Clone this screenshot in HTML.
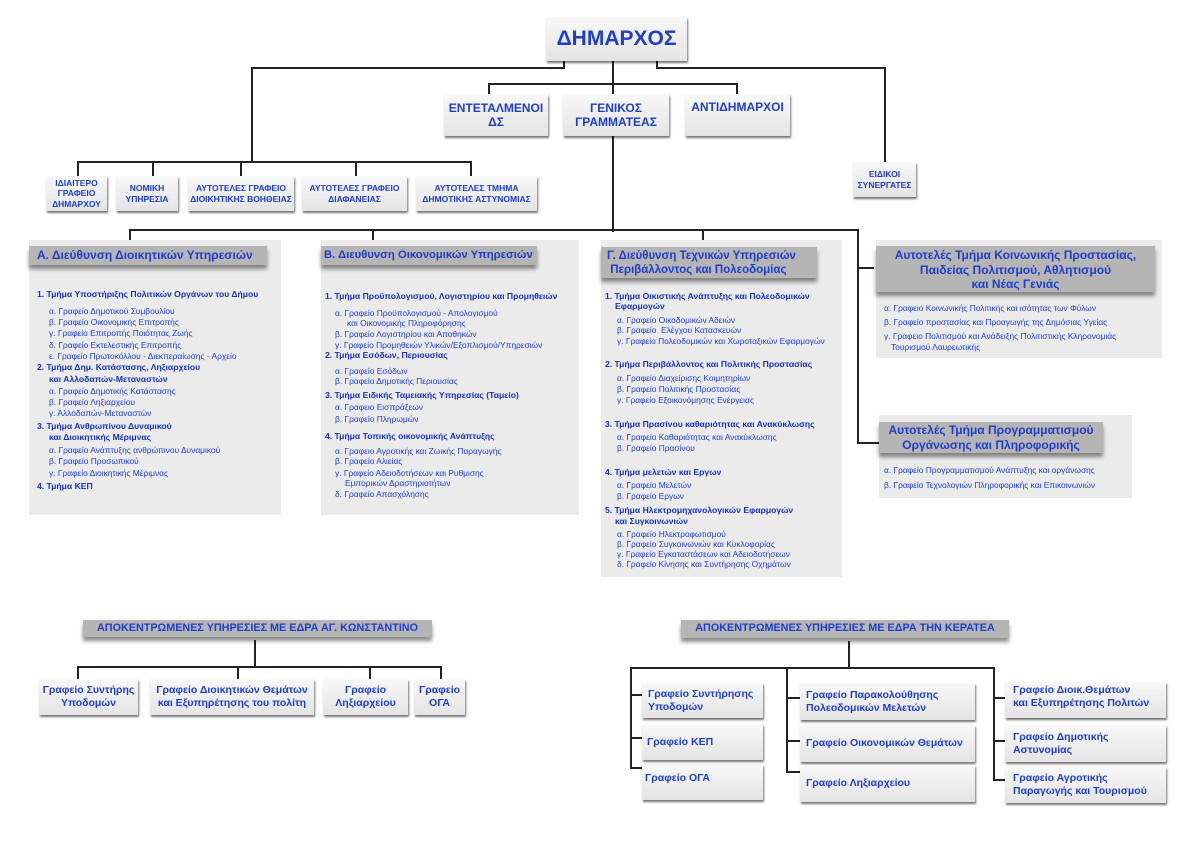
<!DOCTYPE html>
<html><head><meta charset="utf-8"><style>
body{margin:0;width:1200px;height:849px;background:#fff;position:relative;overflow:hidden;font-family:"Liberation Sans","DejaVu Sans",sans-serif;color:#1f3fc8}
.a{position:absolute}
.h{position:absolute;height:2px;background:#222}
.v{position:absolute;width:2px;background:#222}
.b{position:absolute;background:linear-gradient(#f8f8f8,#e4e4e4);box-shadow:1px 2px 2px rgba(0,0,0,.55);display:flex;align-items:center;justify-content:center;text-align:center;font-weight:bold;color:#1f3fc8;box-sizing:border-box;line-height:1.2}
.p{position:absolute;background:#ebebeb}
.hd{position:absolute;background:#b5b5b5;box-shadow:0 4px 4px rgba(0,0,0,.45);font-weight:bold;color:#1f3fc8;box-sizing:border-box;white-space:nowrap}
.t{position:absolute;font-size:8.4px;white-space:nowrap;line-height:10px}
.s{position:absolute;font-size:8.6px;font-weight:bold;white-space:nowrap;line-height:10px;color:#1633b8}
</style></head><body>

<!-- top lines -->
<div class="v" style="left:563px;top:60px;height:9px"></div>
<div class="h" style="left:251px;top:67px;width:314px"></div>
<div class="v" style="left:251px;top:67px;height:96px"></div>
<div class="h" style="left:77px;top:161px;width:395px"></div>
<div class="v" style="left:77px;top:161px;height:15px"></div>
<div class="v" style="left:152px;top:161px;height:15px"></div>
<div class="v" style="left:240px;top:161px;height:15px"></div>
<div class="v" style="left:355px;top:161px;height:15px"></div>
<div class="v" style="left:470px;top:161px;height:15px"></div>

<div class="v" style="left:656px;top:60px;height:9px"></div>
<div class="h" style="left:656px;top:67px;width:230px"></div>
<div class="v" style="left:884px;top:67px;height:96px"></div>

<div class="v" style="left:612px;top:60px;height:172px"></div>
<div class="h" style="left:488px;top:83px;width:250px"></div>
<div class="v" style="left:488px;top:83px;height:11px"></div>
<div class="v" style="left:736px;top:83px;height:11px"></div>

<div class="h" style="left:129px;top:229px;width:730px"></div>
<div class="v" style="left:129px;top:229px;height:11px"></div>
<div class="v" style="left:372px;top:229px;height:11px"></div>
<div class="v" style="left:702px;top:229px;height:11px"></div>
<div class="v" style="left:857px;top:229px;height:215px"></div>
<div class="h" style="left:857px;top:267px;width:17px"></div>
<div class="h" style="left:857px;top:442px;width:22px"></div>

<!-- top boxes -->
<div class="b" style="left:546px;top:17px;width:141px;height:44px;font-size:21px">ΔΗΜΑΡΧΟΣ</div>
<div class="b" style="left:444px;top:94px;width:104px;height:42px;font-size:12px">ΕΝΤΕΤΑΛΜΕΝΟΙ<br>ΔΣ</div>
<div class="b" style="left:563px;top:94px;width:106px;height:42px;font-size:12px">ΓΕΝΙΚΟΣ<br>ΓΡΑΜΜΑΤΕΑΣ</div>
<div class="b" style="left:685px;top:94px;width:105px;height:42px;font-size:12px;align-items:flex-start;padding-top:6px">ΑΝΤΙΔΗΜΑΡΧΟΙ</div>
<div class="b" style="left:853px;top:162px;width:63px;height:35px;font-size:8.5px">ΕΙΔΙΚΟΙ<br>ΣΥΝΕΡΓΑΤΕΣ</div>

<div class="b" style="left:46px;top:176px;width:61px;height:35px;font-size:8.5px">ΙΔΙΑΙΤΕΡΟ<br>ΓΡΑΦΕΙΟ<br>ΔΗΜΑΡΧΟΥ</div>
<div class="b" style="left:116px;top:176px;width:62px;height:35px;font-size:8.5px">ΝΟΜΙΚΗ<br>ΥΠΗΡΕΣΙΑ</div>
<div class="b" style="left:188px;top:176px;width:106px;height:35px;font-size:8.5px">ΑΥΤΟΤΕΛΕΣ ΓΡΑΦΕΙΟ<br>ΔΙΟΙΚΗΤΙΚΗΣ ΒΟΗΘΕΙΑΣ</div>
<div class="b" style="left:302px;top:176px;width:105px;height:35px;font-size:8.5px">ΑΥΤΟΤΕΛΕΣ ΓΡΑΦΕΙΟ<br>ΔΙΑΦΑΝΕΙΑΣ</div>
<div class="b" style="left:416px;top:176px;width:121px;height:35px;font-size:8.5px">ΑΥΤΟΤΕΛΕΣ ΤΜΗΜΑ<br>ΔΗΜΟΤΙΚΗΣ ΑΣΤΥΝΟΜΙΑΣ</div>

<!-- Panel A -->
<div class="p" style="left:29px;top:240px;width:252px;height:275px"></div>
<div class="hd" style="left:29px;top:246px;width:238px;height:19px;font-size:12px;padding:2px 0 0 8px">Α. Διεύθυνση Διοικητικών Υπηρεσιών</div>
<div class="s" style="left:37px;top:289px">1. Τμήμα Υποστήριξης Πολιτικών Οργάνων του Δήμου</div>
<div class="t" style="left:49px;top:306px">α. Γραφείο Δημοτικού Συμβουλίου</div>
<div class="t" style="left:49px;top:317px">β. Γραφείο Οικονομικής Επιτροπής</div>
<div class="t" style="left:49px;top:328px">γ. Γραφείο Επιτροπής Ποιότητας Ζωής</div>
<div class="t" style="left:49px;top:340px">δ. Γραφείο Εκτελεστικής Επιτροπής</div>
<div class="t" style="left:49px;top:351px">ε. Γραφείο Πρωτοκόλλου - Διεκπεραίωσης - Αρχείο</div>
<div class="s" style="left:37px;top:362px">2. Τμήμα Δημ. Κατάστασης, Ληξιαρχείου</div>
<div class="s" style="left:49px;top:374px">και Αλλοδαπών-Μεταναστών</div>
<div class="t" style="left:49px;top:386px">α. Γραφείο Δημοτικής Κατάστασης</div>
<div class="t" style="left:49px;top:397px">β. Γραφείο Ληξιαρχείου</div>
<div class="t" style="left:49px;top:408px">γ. Αλλοδαπών-Μεταναστών</div>
<div class="s" style="left:37px;top:421px">3. Τμήμα Ανθρωπίνου Δυναμικού</div>
<div class="s" style="left:49px;top:432px">και Διοικητικής Μέριμνας</div>
<div class="t" style="left:49px;top:445px">α. Γραφείο Ανάπτυξης ανθρώπινου Δυναμικού</div>
<div class="t" style="left:49px;top:456px">β. Γραφείο Προσωπικού</div>
<div class="t" style="left:49px;top:468px">γ. Γραφείο Διοικητικής Μέριμνας</div>
<div class="s" style="left:37px;top:481px">4. Τμήμα ΚΕΠ</div>

<!-- Panel B -->
<div class="p" style="left:321px;top:240px;width:258px;height:275px"></div>
<div class="hd" style="left:321px;top:246px;width:216px;height:19px;font-size:11.3px;padding:3px 0 0 3px">Β. Διευθυνση Οικονομικών Υπηρεσιών</div>
<div class="s" style="left:325px;top:291px">1. Τμήμα Προϋπολογισμού, Λογιστηρίου και Προμηθειών</div>
<div class="t" style="left:335px;top:308px">α. Γραφείο Προϋπολογισμού - Απολογισμού</div>
<div class="t" style="left:347px;top:318px">και Οικονομικής Πληροφόρησης</div>
<div class="t" style="left:335px;top:329px">β. Γραφείο Λογιστηρίου και Αποθηκών</div>
<div class="t" style="left:335px;top:340px">γ. Γραφείο Προμηθειών Υλικών/Εξοπλισμού/Υπηρεσιών</div>
<div class="s" style="left:325px;top:350px">2. Τμήμα Εσόδων, Περιουσίας</div>
<div class="t" style="left:335px;top:366px">α. Γραφείο Εσόδων</div>
<div class="t" style="left:335px;top:376px">β. Γραφείο Δημοτικής Περιουσίας</div>
<div class="s" style="left:325px;top:390px">3. Τμήμα Ειδικής Ταμειακής Υπηρεσίας (Ταμείο)</div>
<div class="t" style="left:335px;top:402px">α. Γραφειο Εισπράξεων</div>
<div class="t" style="left:335px;top:414px">β. Γραφείο Πληρωμών</div>
<div class="s" style="left:325px;top:431px">4. Τμήμα Τοπικής οικονομικής Ανάπτυξης</div>
<div class="t" style="left:335px;top:446px">α. Γραφειο Αγροτικής και Ζωικής Παραγωγής</div>
<div class="t" style="left:335px;top:456px">β. Γραφείο Αλιείας</div>
<div class="t" style="left:335px;top:468px">γ. Γραφείο Αδειοδοτήσεων και Ρυθμισης</div>
<div class="t" style="left:345px;top:478px">Εμπορικών Δραστηριοτήτων</div>
<div class="t" style="left:335px;top:489px">δ. Γραφείο Απασχόλησης</div>

<!-- Panel Γ -->
<div class="p" style="left:601px;top:240px;width:241px;height:337px"></div>
<div class="hd" style="left:601px;top:247px;width:216px;height:31px;font-size:11.5px;line-height:14px;padding:2px 0 0 6px">Γ. Διεύθυνση Τεχνικών Υπηρεσιών<br>&nbsp;Περιβάλλοντος και Πολεοδομίας</div>
<div class="s" style="left:605px;top:291px">1. Τμήμα Οικιστικής Ανάπτυξης και Πολεοδομικών</div>
<div class="s" style="left:615px;top:301px">Εφαρμογών</div>
<div class="t" style="left:617px;top:315px">α. Γραφείο Οικοδομικών Αδειών</div>
<div class="t" style="left:617px;top:325px">β. Γραφείο &nbsp;Ελέγχου Κατασκευών</div>
<div class="t" style="left:617px;top:336px">γ. Γραφείο Πολεοδομικών και Χωροταξικών Εφαρμογών</div>
<div class="s" style="left:605px;top:359px">2. Τμήμα Περιβάλλοντος και Πολιτικής Προστασίας</div>
<div class="t" style="left:617px;top:373px">α. Γραφείο Διαχείρισης Κοιμητηρίων</div>
<div class="t" style="left:617px;top:384px">β. Γραφείο Πολιτικής Προστασίας</div>
<div class="t" style="left:617px;top:395px">γ. Γραφείο Εξοικονόμησης Ενέργειας</div>
<div class="s" style="left:605px;top:419px">3. Τμήμα Πρασίνου καθαριότητας και Ανακύκλωσης</div>
<div class="t" style="left:617px;top:432px">α. Γραφείο Καθαριότητας και Ανακύκλωσης</div>
<div class="t" style="left:617px;top:443px">β. Γραφείο Πρασίνου</div>
<div class="s" style="left:605px;top:467px">4. Τμήμα μελετών και Εργων</div>
<div class="t" style="left:617px;top:480px">α. Γραφείο Μελετών</div>
<div class="t" style="left:617px;top:491px">β. Γραφείο Εργων</div>
<div class="s" style="left:605px;top:505px">5. Τμήμα Ηλεκτρομηχανολογικών Εφαρμογών</div>
<div class="s" style="left:615px;top:516px">και Συγκοινωνιών</div>
<div class="t" style="left:617px;top:529px">α. Γραφείο Ηλεκτροφωτισμού</div>
<div class="t" style="left:617px;top:539px">β. Γραφείο Συγκοινωνιών και Κυκλοφορίας</div>
<div class="t" style="left:617px;top:549px">γ. Γραφείο Εγκαταστάσεων και Αδειοδοτήσεων</div>
<div class="t" style="left:617px;top:559px">δ. Γραφείο Κίνησης και Συντήρησης Οχημάτων</div>

<!-- Right panels -->
<div class="p" style="left:876px;top:240px;width:286px;height:118px"></div>
<div class="hd" style="left:876px;top:246px;width:279px;height:46px;font-size:12px;line-height:14.5px;text-align:center;padding-top:2px">Αυτοτελές Τμήμα Κοινωνικής Προστασίας,<br>Παιδείας Πολιτισμού, Αθλητισμού<br>και Νέας Γενιάς</div>
<div class="t" style="left:884px;top:303px">α. Γραφειο Κοινωνικής Πολιτικής και ισότητας των Φύλων</div>
<div class="t" style="left:884px;top:317px">β. Γραφείο προστασίας και Προαγωγής της Δημόσιας Υγείας</div>
<div class="t" style="left:884px;top:331px">γ. Γραφειο Πολιτισμού και Ανάδειξης Πολιτιστικής Κληρονομιάς</div>
<div class="t" style="left:891px;top:342px">Τουρισμού Λαυρεωτικής</div>

<div class="p" style="left:879px;top:415px;width:253px;height:83px"></div>
<div class="hd" style="left:879px;top:422px;width:224px;height:31px;font-size:12px;line-height:14.5px;text-align:center;padding-top:1px">Αυτοτελές Τμήμα Προγραμματισμού<br>Οργάνωσης και Πληροφορικής</div>
<div class="t" style="left:884px;top:465px">α. Γραφείο Προγραμματισμού Ανάπτυξης και οργάνωσης</div>
<div class="t" style="left:884px;top:480px">β. Γραφείο Τεχνολογιών Πληροφορικής και Επικοινωνιών</div>

<!-- Bottom left -->
<div class="hd" style="left:83px;top:620px;width:349px;height:17px;font-size:10.8px;text-align:center;padding-top:2px">ΑΠΟΚΕΝΤΡΩΜΕΝΕΣ ΥΠΗΡΕΣΙΕΣ ΜΕ ΕΔΡΑ ΑΓ. ΚΩΝΣΤΑΝΤΙΝΟ</div>
<div class="v" style="left:254px;top:640px;height:28px"></div>
<div class="h" style="left:77px;top:666px;width:365px"></div>
<div class="v" style="left:77px;top:666px;height:14px"></div>
<div class="v" style="left:237px;top:666px;height:14px"></div>
<div class="v" style="left:369px;top:666px;height:14px"></div>
<div class="v" style="left:440px;top:666px;height:14px"></div>
<div class="b" style="left:39px;top:679px;width:99px;height:36px;font-size:10.5px">Γραφείο Συντήρης<br>Υποδομών</div>
<div class="b" style="left:150px;top:679px;width:164px;height:36px;font-size:10.5px">Γραφείο Διοικητικών Θεμάτων<br>και Εξυπηρέτησης του πολίτη</div>
<div class="b" style="left:323px;top:679px;width:85px;height:36px;font-size:10.5px">Γραφείο<br>Ληξιαρχείου</div>
<div class="b" style="left:414px;top:679px;width:51px;height:36px;font-size:10.5px">Γραφείο<br>ΟΓΑ</div>

<!-- Bottom right -->
<div class="hd" style="left:681px;top:620px;width:328px;height:18px;font-size:10.8px;text-align:center;padding-top:2px">ΑΠΟΚΕΝΤΡΩΜΕΝΕΣ ΥΠΗΡΕΣΙΕΣ ΜΕ ΕΔΡΑ ΤΗΝ ΚΕΡΑΤΕΑ</div>
<div class="v" style="left:848px;top:641px;height:27px"></div>
<div class="h" style="left:630px;top:667px;width:365px"></div>
<div class="v" style="left:630px;top:667px;height:102px"></div>
<div class="h" style="left:630px;top:694px;width:12px"></div>
<div class="h" style="left:630px;top:737px;width:12px"></div>
<div class="h" style="left:630px;top:767px;width:12px"></div>
<div class="v" style="left:786px;top:667px;height:106px"></div>
<div class="h" style="left:786px;top:697px;width:14px"></div>
<div class="h" style="left:786px;top:740px;width:14px"></div>
<div class="h" style="left:786px;top:771px;width:14px"></div>
<div class="v" style="left:993px;top:667px;height:114px"></div>
<div class="h" style="left:993px;top:697px;width:12px"></div>
<div class="h" style="left:993px;top:740px;width:12px"></div>
<div class="h" style="left:993px;top:779px;width:12px"></div>

<div class="b" style="left:642px;top:683px;width:121px;height:35px;font-size:10.5px;justify-content:flex-start;text-align:left;padding-left:6px">Γραφείο Συντήρησης<br>Υποδομών</div>
<div class="b" style="left:642px;top:724px;width:121px;height:36px;font-size:10.5px;justify-content:flex-start;text-align:left;padding-left:5px">Γραφείο ΚΕΠ</div>
<div class="b" style="left:642px;top:764px;width:121px;height:36px;font-size:10.5px;justify-content:flex-start;text-align:left;padding-left:3px;align-items:flex-start;padding-top:8px">Γραφείο ΟΓΑ</div>
<div class="b" style="left:800px;top:683px;width:175px;height:37px;font-size:10.5px;justify-content:flex-start;text-align:left;padding-left:6px">Γραφείο Παρακολούθησης<br>Πολεοδομικών Μελετών</div>
<div class="b" style="left:800px;top:725px;width:175px;height:37px;font-size:10.5px;justify-content:flex-start;text-align:left;padding-left:6px">Γραφείο Οικονομικών Θεμάτων</div>
<div class="b" style="left:800px;top:765px;width:175px;height:37px;font-size:10.5px;justify-content:flex-start;text-align:left;padding-left:6px">Γραφείο Ληξιαρχείου</div>
<div class="b" style="left:1005px;top:682px;width:161px;height:36px;font-size:10.5px;justify-content:flex-start;text-align:left;padding-left:8px;align-items:flex-start;padding-top:2px">Γραφείο Διοικ.Θεμάτων<br>και Εξυπηρέτησης Πολιτών</div>
<div class="b" style="left:1005px;top:725px;width:161px;height:37px;font-size:10.5px;justify-content:flex-start;text-align:left;padding-left:8px">Γραφείο Δημοτικής<br>Αστυνομίας</div>
<div class="b" style="left:1005px;top:767px;width:161px;height:36px;font-size:10.5px;justify-content:flex-start;text-align:left;padding-left:8px">Γραφείο Αγροτικής<br>Παραγωγής και Τουρισμού</div>

</body></html>
